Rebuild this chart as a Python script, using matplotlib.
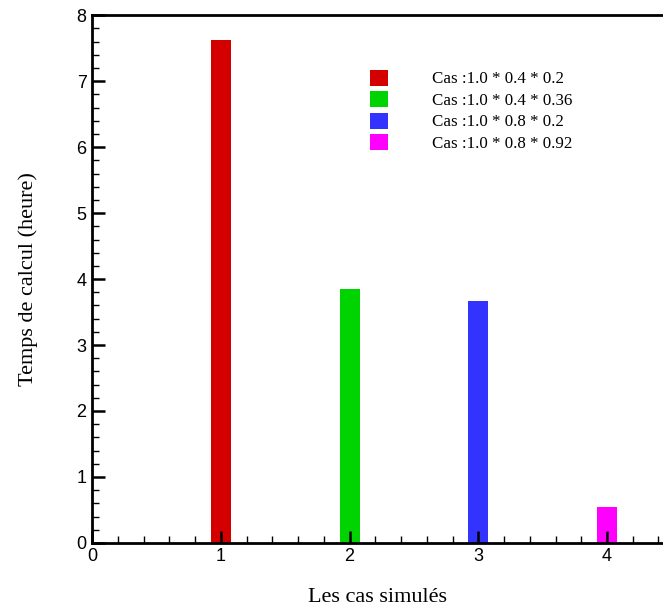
import matplotlib
matplotlib.use("Agg")
import matplotlib.pyplot as plt
from matplotlib.ticker import MultipleLocator

# temps de calcul pour chaque cas simulé
cas = [1, 2, 3, 4]
temps = [7.62, 3.85, 3.67, 0.55]
labels = ["Cas :1.0 * 0.4 * 0.2", "Cas :1.0 * 0.4 * 0.36",
          "Cas :1.0 * 0.8 * 0.2", "Cas :1.0 * 0.8 * 0.92"]
couleurs = ["#d40000", "#00d400", "#3333ff", "#ff00ff"]

fig = plt.figure(figsize=(6.63, 6.10), dpi=100)
ax = fig.add_axes([0.139, 0.110, 0.861, 0.865])

bars = ax.bar(cas, temps, width=0.155, color=couleurs)

ax.set_xlim(0, 4.435)
ax.set_ylim(0, 8)
ax.xaxis.set_major_locator(MultipleLocator(1))
ax.xaxis.set_minor_locator(MultipleLocator(0.2))
ax.yaxis.set_major_locator(MultipleLocator(1))
ax.yaxis.set_minor_locator(MultipleLocator(0.2))
ax.tick_params(which="major", direction="in", length=9, width=1.8,
               labelsize=13, pad=4, top=False, right=False)
ax.tick_params(which="minor", direction="in", length=5, width=1,
               top=False, right=False)
for lab in ax.get_xticklabels() + ax.get_yticklabels():
    lab.set_family("Liberation Sans")

for side in ["left", "bottom", "top"]:
    ax.spines[side].set_linewidth(2)
ax.spines["right"].set_visible(False)

ax.set_xlabel("Les cas simulés", family="Liberation Serif", fontsize=16,
              labelpad=16)
ax.set_ylabel("Temps de calcul (heure)", family="Liberation Serif",
              fontsize=16, labelpad=28)

ax.legend(bars, labels, loc="upper left", bbox_to_anchor=(0.487, 0.897),
          frameon=False, prop={"family": "Liberation Serif", "size": 12.2},
          borderpad=0, borderaxespad=0,
          handlelength=1.08, handleheight=1.08, handletextpad=2.55,
          labelspacing=0.22)

fig.savefig("out.png", dpi=100)
